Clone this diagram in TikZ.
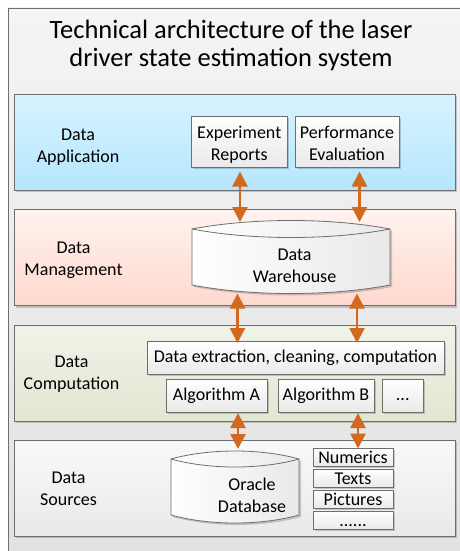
\documentclass[tikz,border=0pt]{standalone}
\usepackage{fontspec}
\setmainfont{Carlito}
\usetikzlibrary{arrows.meta,shadows,calc}
\definecolor{edge}{HTML}{6E6E6E}
\definecolor{orangeline}{HTML}{D2691E}
\definecolor{apptop}{HTML}{D9F3FF}\definecolor{appbot}{HTML}{B5E6FD}
\definecolor{mgtop}{HTML}{FFF2EE}\definecolor{mgbot}{HTML}{FFD9CF}
\definecolor{cotop}{HTML}{F0F3E8}\definecolor{cobot}{HTML}{E1E7D2}
\definecolor{srtop}{HTML}{F9F9F9}\definecolor{srbot}{HTML}{E9E9E9}
\definecolor{outop}{HTML}{F4F4F4}\definecolor{oubot}{HTML}{E2E2E2}
\definecolor{boxbot}{HTML}{E9E9E9}
\tikzset{
  softshadow/.style={drop shadow={shadow xshift=2pt,shadow yshift=-2pt,opacity=.18,fill=black}},
  panel/.style={draw=edge,line width=0.9pt,minimum width=441pt,minimum height=96pt,anchor=north west,inner sep=0pt,outer sep=0pt,softshadow},
  box/.style={draw=edge,line width=0.8pt,top color=white,bottom color=boxbot,anchor=north west,inner sep=0pt,outer sep=0pt,align=center,
    font=\fontsize{18}{22}\selectfont,
    drop shadow={shadow xshift=1.5pt,shadow yshift=-1.5pt,opacity=.18,fill=black}},
  oneline/.style={box,minimum height=33.5pt,text height=13pt,text depth=3pt},
  label/.style={align=center,font=\fontsize{18}{22}\selectfont,inner sep=0pt},
  anchorbox/.style={inner sep=0pt,outer sep=0pt,anchor=north west},
  cyl/.style={draw=edge,line width=0.8pt,left color=white,right color=boxbot},
  dbl/.style={draw=orangeline,line width=2.6pt,{Triangle[length=15pt,width=15pt]}-{Triangle[length=15pt,width=15pt]}},
  boxsm/.style={box,minimum width=80pt,minimum height=18pt,text height=14pt,text depth=3pt,font=\fontsize{18}{18}\selectfont}
}
\newlength{\cylw}
\newcommand{\low}[2]{\raisebox{-#1pt}[\height][\depth]{#2}}
\newcommand{\cylpath}[2]{%
  ($(#1.north west)+(0,#2)$) .. controls ($(#1.north west)+(0.3*\cylw,-#2/3)$) and ($(#1.north east)+(-0.3*\cylw,-#2/3)$) .. ($(#1.north east)+(0,#2)$)
  -- ($(#1.south east)+(0,-#2)$) .. controls ($(#1.south east)+(-0.3*\cylw,#2/3)$) and ($(#1.south west)+(0.3*\cylw,#2/3)$) .. ($(#1.south west)+(0,-#2)$) -- cycle}
\newcommand{\cyltop}[2]{%
  ($(#1.north west)+(0,#2)$) .. controls ($(#1.north west)+(0.3*\cylw,7*#2/3)$) and ($(#1.north east)+(-0.3*\cylw,7*#2/3)$) .. ($(#1.north east)+(0,#2)$)}
\begin{document}
\begin{tikzpicture}[x=1pt,y=-1pt]
\useasboundingbox (0,0) rectangle (460,551);
\node[anchorbox,minimum width=452pt,minimum height=543pt,top color=outop,bottom color=oubot] (outer) at (8,8) {};
\draw[edge,line width=0.9pt] (outer.south west) -- (outer.north west) -- (outer.north east);
\node[align=center,font=\fontsize{26.5}{28}\selectfont,inner sep=0pt] (title) at (231,45) {Technical architecture of the laser\\driver state estimation system};

\node[panel,top color=apptop,bottom color=appbot] (app) at (14,94) {};
\node[panel,top color=mgtop,bottom color=mgbot] (mgmt) at (14,209.5) {};
\node[panel,top color=cotop,bottom color=cobot] (comp) at (14,325) {};
\node[panel,top color=srtop,bottom color=srbot] (src) at (14,440) {};

\node[label] (lapp) at (78,147) {Data\\Application};
\node[label] (lmgmt) at (73.5,260) {Data\\Management};
\node[label] (lcomp) at (71.5,374.5) {Data\\Computation};
\node[label] (lsrc) at (68.5,489) {Data\\Sources};

\node[box,minimum width=95.5pt,minimum height=51pt] (exp) at (191.5,116.5) {\low{2.5}{Experiment}\\\low{2.5}{Reports}};
\node[box,minimum width=104pt,minimum height=51pt] (perf) at (295,116.5) {\low{1}{Performance}\\\low{1}{Evaluation}};

\node[anchorbox,minimum width=198pt,minimum height=73pt] (wh) at (192,220.5) {};
\setlength{\cylw}{198pt}
\path[cyl,softshadow] \cylpath{wh}{8.5};
\draw[edge,line width=0.8pt] \cyltop{wh}{8.5};
\node[label] (whtext) at (294.5,265.5) {Data\\Warehouse};

\node[oneline,minimum width=297pt] (extract) at (147,341) {Data extraction, cleaning, computation};
\node[oneline,minimum width=101pt] (alga) at (166,379) {Algorithm A};
\node[oneline,minimum width=96pt] (algb) at (278,379) {Algorithm B};
\node[oneline,minimum width=41.5pt] (more) at (382,379) {...};

\node[anchorbox,minimum width=128pt,minimum height=72pt] (ora) at (171,451) {};
\setlength{\cylw}{128pt}
\path[cyl,softshadow] \cylpath{ora}{8};
\draw[edge,line width=0.8pt] \cyltop{ora}{8};
\node[label] (oratext) at (252,495.5) {Oracle\\Database};

\node[boxsm] (num) at (313,448.5) {Numerics};
\node[boxsm] (txt) at (313,469.5) {Texts};
\node[boxsm] (pic) at (313,490.5) {Pictures};
\node[boxsm] (dots) at (313,511.5) {......};

\draw[dbl] ([xshift=0.75pt,yshift=-4pt]exp.south) -- ([xshift=-51pt,yshift=-1.5pt]wh.north);
\draw[dbl] ([xshift=12.5pt,yshift=-4pt]perf.south) -- ([xshift=68.5pt,yshift=-1.5pt]wh.north);
\draw[dbl] ([xshift=-53.5pt]wh.south) -- ([xshift=-58pt,yshift=-2pt]extract.north);
\draw[dbl] ([xshift=66pt]wh.south) -- ([xshift=61.5pt,yshift=-2pt]extract.north);
\draw[dbl] ([xshift=21.5pt,yshift=-0.5pt]alga.south) -- ([xshift=3pt,yshift=2pt]ora.north);
\draw[dbl] ([xshift=32pt,yshift=-0.5pt]algb.south) -- ([xshift=5pt]num.north);
\end{tikzpicture}
\end{document}
